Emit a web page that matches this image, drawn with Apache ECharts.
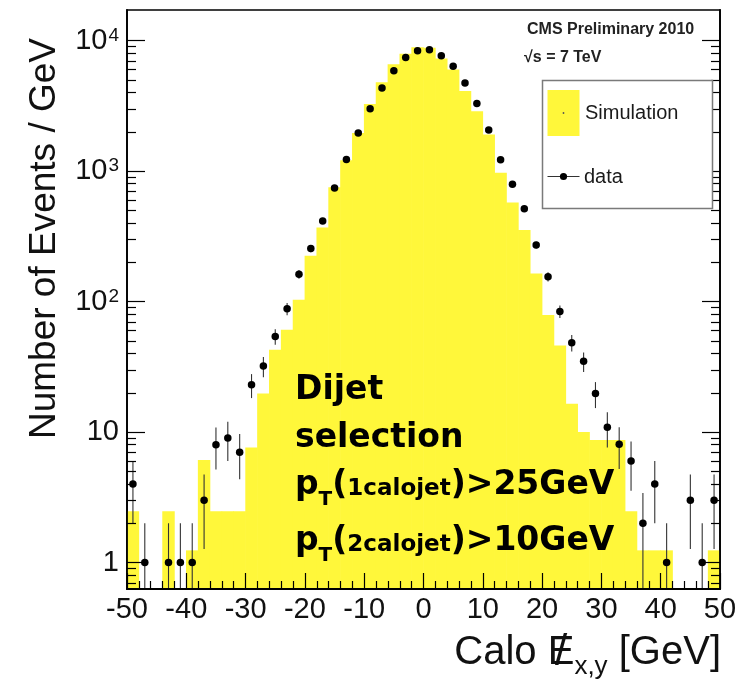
<!DOCTYPE html>
<html>
<head>
<meta charset="utf-8">
<title>Calo MET x,y — Dijet selection</title>
<script src="https://cdn.jsdelivr.net/npm/echarts@6/dist/echarts.min.js"></script>
<style>
  html, body { margin: 0; padding: 0; background: #ffffff; }
  #chart { width: 742px; height: 682px; }
</style>
</head>
<body>
<div id="chart"></div>
<script>
// ---- Data -----------------------------------------------------------------
// Histogram bins are 2 GeV wide; centres in GeV.
const binWidth = 2;
const binCenters = [-49, -47, -45, -43, -41, -39, -37, -35, -33, -31,
                    -29, -27, -25, -23, -21, -19, -17, -15, -13, -11,
                     -9,  -7,  -5,  -3,  -1,   1,   3,   5,   7,   9,
                     11,  13,  15,  17,  19,  21,  23,  25,  27,  29,
                     31,  33,  35,  37,  39,  41,  43,  45,  47,  49];

// Simulation, events per GeV (0 = empty bin)
const simulation = [2.47, 0, 0, 2.47, 0, 1.24, 6.1, 2.47, 2.47, 2.47,
                    7.6, 19.7, 42.8, 60.8, 103, 224, 369, 750, 1210, 1960,
                    3265, 4780, 6590, 7910, 8890, 8800, 7300, 6000, 4100, 2870,
                    1905, 970, 573, 353, 164, 79, 46, 16.5, 10, 8.7,
                    8.7, 8.7, 2.47, 1.24, 1.24, 1.24, 0, 0, 0, 1.24];

// Data, events per GeV (null = no entry)
const dataValues = [4, 1, null, 1, 1, 1, 3, 8, 9, 7,
                    23, 32, 54, 88, 162, 255, 415, 740, 1228, 1960,
                    3000, 4325, 5870, 7410, 8340, 8490, 7640, 6340, 4720, 3290,
                    2060, 1220, 791, 515, 271, 155, 84, 48.4, 34.8, 19.7,
                    10.9, 8.05, 6, 2, 4, 1, null, 3, 1, 3];

// Axis ranges and tick positions
const xRange = [-50, 50];
const xMajorStep = 10;
const yRange = [0.627, 17140];
const yMajorTicks = [1, 10, 100, 1000, 10000];
const yMinorTicks = [0.7, 0.8, 0.9,
                     2, 3, 4, 5, 6, 7, 8, 9,
                     20, 30, 40, 50, 60, 70, 80, 90,
                     200, 300, 400, 500, 600, 700, 800, 900,
                     2000, 3000, 4000, 5000, 6000, 7000, 8000, 9000];

// ---- Styling --------------------------------------------------------------
const YELLOW = '#fff73a';
const SANS = '"Liberation Sans", Arial, sans-serif';
const BOLD_SANS = '"DejaVu Sans", sans-serif';

const simBins = [];
binCenters.forEach((c, i) => { if (simulation[i] > 0) simBins.push([c, simulation[i]]); });
const dataPoints = [];
binCenters.forEach((c, i) => { if (dataValues[i] != null) dataPoints.push([c, dataValues[i]]); });

// text measuring, used to lay out mixed-size text runs
const measureCtx = document.createElement('canvas').getContext('2d');
function textWidth(str, font) { measureCtx.font = font; return measureCtx.measureText(str).width; }
const MID_TO_BASE = 0.346; // alphabetic baseline sits this many em below the 'middle' baseline

function textRuns(runs, x, baseline, align) {
  const fonts = runs.map(r => `${r.weight || 'normal'} ${r.size}px ${r.family}`);
  const widths = runs.map((r, i) => textWidth(r.text, fonts[i]));
  const total = widths.reduce((a, b) => a + b, 0);
  let cx = align === 'right' ? x - total : x;
  const els = [];
  const pos = [];
  runs.forEach((r, i) => {
    pos.push({ x: cx, w: widths[i] });
    els.push({
      type: 'text', x: cx, y: baseline - MID_TO_BASE * r.size + (r.dy || 0), z: 100, silent: true,
      style: { text: r.text, font: fonts[i], fill: r.fill || '#000', align: 'left', verticalAlign: 'middle' }
    });
    cx += widths[i];
  });
  return { els, pos };
}

// x-axis title: Calo E-slash_{x,y} [GeV]
const xTitle = textRuns([
  { text: 'Calo ', size: 40, family: SANS, fill: '#111' },
  { text: 'E', size: 40, family: SANS, fill: '#111' },
  { text: 'x,y', size: 26, family: SANS, fill: '#111', dy: 9 },
  { text: ' [GeV]', size: 40, family: SANS, fill: '#111' }
], 721, 667, 'right');
const eSlash = {
  type: 'text', x: xTitle.pos[1].x + xTitle.pos[1].w / 2, y: 667 - MID_TO_BASE * 44 + 1, z: 101, silent: true,
  style: { text: '/', font: `44px ${SANS}`, fill: '#111', align: 'center', verticalAlign: 'middle' }
};

// selection annotation
const selFont = { weight: 'bold', family: BOLD_SANS };
const selLines = [
  textRuns([{ text: 'Dijet', size: 33, ...selFont }], 295, 401.5),
  textRuns([{ text: 'selection', size: 33, ...selFont }], 295, 450),
  textRuns([
    { text: 'p', size: 33, ...selFont },
    { text: 'T', size: 20, ...selFont, dy: 10 },
    { text: '(', size: 33, ...selFont },
    { text: '1calojet', size: 23, ...selFont },
    { text: ')>25GeV', size: 33, ...selFont }
  ], 295, 497),
  textRuns([
    { text: 'p', size: 33, ...selFont },
    { text: 'T', size: 20, ...selFont, dy: 10 },
    { text: '(', size: 33, ...selFont },
    { text: '2calojet', size: 23, ...selFont },
    { text: ')>10GeV', size: 33, ...selFont }
  ], 295, 553)
];

const graphics = [
  // y-axis title, reading bottom to top
  {
    type: 'text', x: 45, y: 38, rotation: Math.PI / 2, z: 100, silent: true,
    style: { text: 'Number of Events / GeV', font: `37px ${SANS}`, fill: '#111', align: 'right', verticalAlign: 'middle' }
  },
  ...xTitle.els, eSlash,
  // CMS labels
  {
    type: 'text', x: 527, y: 30, z: 100, silent: true,
    style: { text: 'CMS Preliminary 2010', font: `bold 16px ${SANS}`, fill: '#222', align: 'left', verticalAlign: 'middle' }
  },
  {
    type: 'text', x: 524, y: 58, z: 100, silent: true,
    style: { text: '\u221As = 7 TeV', font: `bold 16px ${SANS}`, fill: '#222', align: 'left', verticalAlign: 'middle' }
  },
  // legend
  {
    type: 'rect', z: 100, silent: true,
    shape: { x: 542.5, y: 80.5, width: 170, height: 128 },
    style: { fill: '#ffffff', stroke: '#7a7a7a', lineWidth: 1.5 }
  },
  {
    type: 'rect', z: 101, silent: true,
    shape: { x: 547.5, y: 90, width: 32, height: 46 },
    style: { fill: YELLOW }
  },
  {
    type: 'circle', z: 102, silent: true,
    shape: { cx: 563.5, cy: 113, r: 0.9 },
    style: { fill: '#555' }
  },
  {
    type: 'text', x: 585, y: 113, z: 101, silent: true,
    style: { text: 'Simulation', font: `20px ${SANS}`, fill: '#1a1a1a', align: 'left', verticalAlign: 'middle' }
  },
  {
    type: 'line', z: 101, silent: true,
    shape: { x1: 547.5, y1: 176.5, x2: 579.5, y2: 176.5 },
    style: { stroke: '#333', lineWidth: 1.2 }
  },
  {
    type: 'circle', z: 102, silent: true,
    shape: { cx: 563.5, cy: 176.5, r: 3.6 },
    style: { fill: '#000' }
  },
  {
    type: 'text', x: 584, y: 177.5, z: 101, silent: true,
    style: { text: 'data', font: `20px ${SANS}`, fill: '#1a1a1a', align: 'left', verticalAlign: 'middle' }
  },
  ...selLines.flatMap(l => l.els)
];

// ---- Axes -----------------------------------------------------------------
const tickLine = { color: '#000', width: 1.2 };
function yAxisDef(position, ticks, tickLen, withLine, withLabels) {
  return {
    type: 'log', logBase: 10, position, min: yRange[0], max: yRange[1], z: 10,
    axisLine: { show: withLine, onZero: false, lineStyle: { color: '#000', width: 1.8 } },
    axisTick: { show: true, inside: true, length: tickLen, customValues: ticks, lineStyle: tickLine },
    minorTick: { show: false },
    splitLine: { show: false },
    axisLabel: withLabels ? {
      show: true, customValues: yMajorTicks, margin: 8, hideOverlap: false,
      formatter: (v) => {
        const p = Math.round(Math.log10(v));
        if (p === 0) return '{b|1}';
        if (p === 1) return '{b|10}';
        return '{b|10}{s|' + p + '}';
      },
      rich: {
        b: { fontSize: 29, fontFamily: SANS, color: '#111', verticalAlign: 'bottom' },
        s: { fontSize: 19, fontFamily: SANS, color: '#111', verticalAlign: 'top', padding: [0, 0, 0, 1] }
      }
    } : { show: false }
  };
}

const option = {
  animation: false,
  backgroundColor: '#ffffff',
  grid: {
    left: 127, right: 22, top: 10, bottom: 93,
    show: true, borderColor: '#000', borderWidth: 1.5, backgroundColor: 'transparent',
    containLabel: false, outerBoundsMode: 'none'
  },
  xAxis: {
    type: 'value', min: xRange[0], max: xRange[1], interval: xMajorStep, position: 'bottom', z: 10,
    axisLine: { show: true, onZero: false, lineStyle: { color: '#000', width: 1.8 } },
    axisTick: { show: true, inside: true, length: 16, lineStyle: tickLine },
    minorTick: { show: true, splitNumber: 5, length: 8, lineStyle: tickLine },
    splitLine: { show: false },
    minorSplitLine: { show: false },
    axisLabel: { show: true, margin: 6, fontSize: 29, fontFamily: SANS, color: '#111', hideOverlap: false }
  },
  yAxis: [
    yAxisDef('left', yMajorTicks, 18, true, true),
    yAxisDef('left', yMinorTicks, 9, false, false),
    yAxisDef('right', yMajorTicks, 18, true, false),
    yAxisDef('right', yMinorTicks, 9, false, false)
  ],
  series: [
    {
      // simulation histogram, one filled rectangle per bin
      type: 'custom', name: 'Simulation', xAxisIndex: 0, yAxisIndex: 0, clip: true, z: 2, silent: true,
      data: simBins,
      encode: { x: 0, y: 1 },
      renderItem: (params, api) => {
        const c = api.value(0), v = api.value(1);
        const tl = api.coord([c - binWidth / 2, v]);
        const br = api.coord([c + binWidth / 2, yRange[0]]);
        return {
          type: 'rect',
          shape: { x: tl[0] - 0.3, y: tl[1], width: br[0] - tl[0] + 0.6, height: br[1] - tl[1] },
          style: { fill: YELLOW }
        };
      }
    },
    {
      // statistical (Poisson) uncertainty on the data
      type: 'custom', name: 'data uncertainty', xAxisIndex: 0, yAxisIndex: 0, clip: true, z: 3, silent: true,
      data: dataPoints,
      encode: { x: 0, y: 1 },
      renderItem: (params, api) => {
        const c = api.value(0), v = api.value(1);
        const err = Math.sqrt(v);
        const lo = Math.max(v - err, yRange[0]);
        const hi = Math.min(v + err, yRange[1]);
        const p0 = api.coord([c, lo]);
        const p1 = api.coord([c, hi]);
        return {
          type: 'line',
          shape: { x1: p0[0], y1: p0[1], x2: p1[0], y2: p1[1] },
          style: { stroke: '#333', lineWidth: 1.1 }
        };
      }
    },
    {
      type: 'scatter', name: 'data', xAxisIndex: 0, yAxisIndex: 0, z: 4, silent: true,
      data: dataPoints, symbol: 'circle', symbolSize: 7.5,
      itemStyle: { color: '#000', opacity: 1, borderWidth: 0 }
    }
  ],
  graphic: graphics
};

const chart = echarts.init(document.getElementById('chart'), null, { renderer: 'canvas' });
chart.setOption(option);
</script>
</body>
</html>
